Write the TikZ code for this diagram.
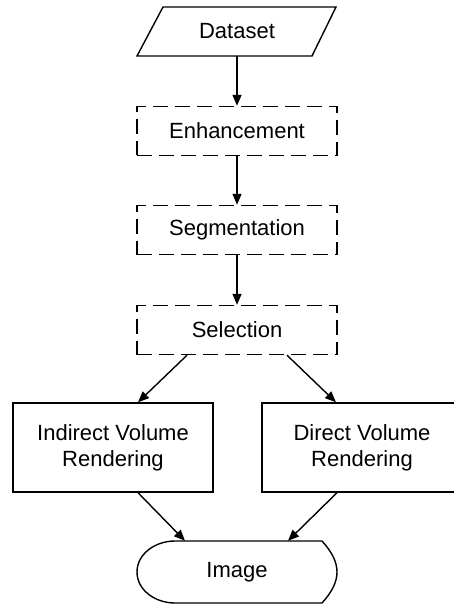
\documentclass[tikz,border=0pt]{standalone}
\usepackage{fontspec}
\setmainfont{Liberation Sans}
\usetikzlibrary{arrows.meta}
\begin{document}
\begin{tikzpicture}[x=1pt,y=-1pt,
  font=\fontsize{22}{26}\selectfont,
  lw/.style={line width=1.4pt},
  plainbox/.style={draw,lw,rectangle,minimum width=200pt,inner sep=0pt,align=center},
  dashbox/.style={plainbox,dash pattern=on 15pt off 7pt,minimum height=49pt},
  ghost/.style={rectangle,inner sep=0pt,align=center},
  arr/.style={lw,-{Triangle[length=11pt,width=9pt]}}]
\useasboundingbox (0,0) rectangle (453,604);
% Dataset (parallelogram)
\node[ghost,minimum width=175pt,minimum height=49pt] (ds) at (237,31.5) {Dataset};
\draw[lw,line join=miter] (137,56) -- (163,7) -- (336,7) -- (312,56) -- cycle;
% process boxes
\node[dashbox] (enh) at (237,131) {Enhancement};
\node[dashbox] (seg) at (237,230) {Segmentation};
\node[dashbox] (sel) at (237,330) {Selection};
\node[plainbox,minimum height=89pt] (ivr) at (113,447.5) {Indirect Volume\\Rendering};
\node[plainbox,minimum height=89pt] (dvr) at (362,447.5) {Direct Volume\\Rendering};
% Image (display shape)
\node[ghost,minimum width=200pt,minimum height=62pt] (img) at (237,572) {Image};
\draw[lw] (175,541) -- (322,541)
  .. controls (332,552) and (337,562) .. (337,572)
  .. controls (337,582) and (332,592) .. (322,603)
  -- (175,603)
  .. controls (155,603) and (137,590) .. (137,572)
  .. controls (137,554) and (155,541) .. (175,541) -- cycle;
% connectors
\draw[arr] (ds.south) -- (enh.north);
\draw[arr] (enh.south) -- (seg.north);
\draw[arr] (seg.south) -- (sel.north);
\draw[arr] ([xshift=-50pt]sel.south) -- ([xshift=25pt]ivr.north);
\draw[arr] ([xshift=50pt]sel.south) -- ([xshift=-26pt]dvr.north);
\draw[arr] ([xshift=25pt]ivr.south) -- ([xshift=-52pt]img.north);
\draw[arr] ([xshift=-25pt]dvr.south) -- ([xshift=51pt]img.north);
\end{tikzpicture}
\end{document}
